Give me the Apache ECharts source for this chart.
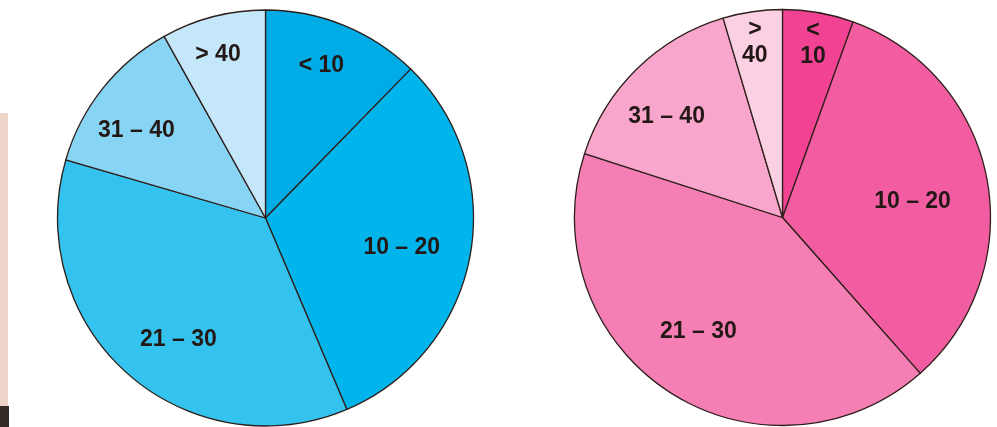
<!DOCTYPE html>
<html>
<head>
<meta charset="utf-8">
<script src="https://cdn.jsdelivr.net/npm/echarts@6/dist/echarts.min.js"></script>
<style>
  html, body { margin: 0; padding: 0; background: #fff; }
  #chart { width: 997px; height: 427px; }
</style>
</head>
<body>
<div id="chart"></div>
<script>
// age groups, percent of each group
const categories = ['< 10', '10 – 20', '21 – 30', '31 – 40', '> 40']
const leftValues = [12.3, 31.3, 35.9, 12.4, 8.1]
const rightValues = [5.5, 32.9, 41.4, 15.4, 4.6]
// narrow slices on the right pie get their label split over two lines
const rightLabels = ['<\n10', '10 – 20', '21 – 30', '31 – 40', '>\n40']

const blues = ['#00ace6', '#00b5ec', '#34c3ef', '#88d4f5', '#c4e7f9']
const pinks = ['#f24294', '#f25ca1', '#f57fb4', '#f8a6cb', '#fbd0e3']

const R = 208
const leftCenter = [265.5, 218]
const rightCenter = [782.5, 217.5]
// label placement: share of radius, and a small turn (deg) off the slice middle
const leftLabelPos = [0.78, 0.67, 0.72, 0.75, 0.82]
const leftLabelTurn = [-2, 1.5, -6, -4.4, -1.6]
const rightLabelPos = [0.85, 0.63, 0.68, 0.74, 0.85]
const rightLabelTurn = [0, 3.7, 3.3, -4.5, -0.7]

let myChart = echarts.init(document.getElementById('chart'))

function pieSeries(values, colors, center, texts, labelPos, labelTurn) {
    const total = values.reduce((a, b) => a + b, 0)
    let acc = 0
    const mids = values.map(v => {
        const m = (acc + v / 2) / total * 360
        acc += v
        return m
    })
    return {
        type: 'pie',
        center: center,
        radius: [0, R],
        startAngle: 90,
        clockwise: true,
        silent: true,
        labelLine: { show: false },
        label: {
            show: true,
            position: 'inside',
            formatter: p => texts[p.dataIndex],
            color: '#231815',
            fontFamily: 'Liberation Sans, Arial, sans-serif',
            fontWeight: 'bold',
            fontSize: 23,
            lineHeight: 26
        },
        labelLayout: function(params) {
            const i = params.dataIndex
            const a = (mids[i] + labelTurn[i]) * Math.PI / 180
            const r = R * labelPos[i]
            return {
                x: center[0] + r * Math.sin(a),
                y: center[1] - r * Math.cos(a)
            }
        },
        itemStyle: {
            borderColor: '#2e1f1a',
            borderWidth: 1.3
        },
        data: values.map((v, i) => ({
            name: categories[i],
            value: v,
            itemStyle: { color: colors[i] }
        }))
    }
}

let option = {
    backgroundColor: '#FFFFFF',
    animation: false,
    graphic: [
        { type: 'rect', shape: { x: 0, y: 113, width: 8, height: 293 }, style: { fill: '#efd4ca' } },
        { type: 'rect', shape: { x: 0, y: 406, width: 9, height: 21 }, style: { fill: '#332c24' } }
    ],
    series: [
        pieSeries(leftValues, blues, leftCenter, categories, leftLabelPos, leftLabelTurn),
        pieSeries(rightValues, pinks, rightCenter, rightLabels, rightLabelPos, rightLabelTurn)
    ]
}
myChart.setOption(option)
window.addEventListener('resize', function() {
    myChart.resize()
})
</script>
</body>
</html>
